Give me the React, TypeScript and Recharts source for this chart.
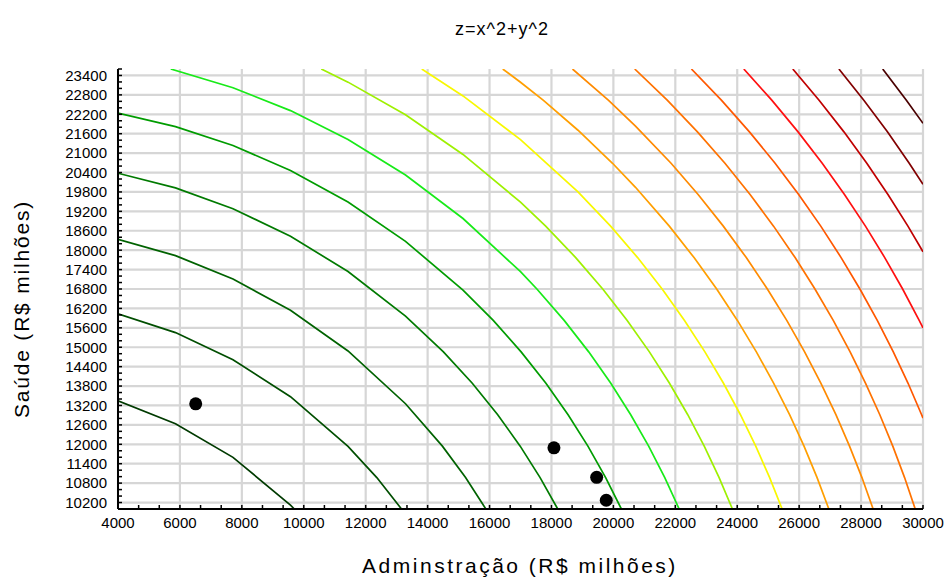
import { ComposedChart, Line, Scatter, XAxis, YAxis, CartesianGrid } from 'recharts'

// tick labels
const xLabels = [4000, 6000, 8000, 10000, 12000, 14000, 16000, 18000, 20000, 22000, 24000, 26000, 28000, 30000]
const yLabels = [10200, 10800, 11400, 12000, 12600, 13200, 13800, 14400, 15000, 15600, 16200, 16800, 17400, 18000, 18600, 19200, 19800, 20400, 21000, 21600, 22200, 22800, 23400]

// contour lines (x, y), innermost first
const c1 = [[4000, 13342], [5857, 12637], [7714, 11597], [9571, 10119], [9695, 10000]]
const c2 = [[4000, 16034], [5857, 15453], [7714, 14615], [9571, 13472], [11429, 11937], [12359, 10971], [13157, 10000]]
const c3 = [[4000, 18336], [5857, 17830], [7714, 17108], [9571, 16143], [11429, 14885], [13286, 13254], [14477, 11943], [15226, 10971], [15881, 10000]]
const c4 = [[4000, 20379], [5857, 19925], [7714, 19282], [9571, 18431], [11429, 17340], [13286, 15962], [14511, 14857], [15443, 13886], [16264, 12914], [16990, 11943], [17633, 10971], [18202, 10000]]
const c5 = [[4000, 22235], [5857, 21820], [7714, 21234], [9571, 20465], [11429, 19488], [13286, 18272], [15143, 16766], [16120, 15829], [17020, 14857], [17821, 13886], [18537, 12914], [19177, 11943], [19750, 10971], [20258, 10000]]
const c6 = [[5704, 23600], [7714, 23022], [9571, 22314], [11429, 21422], [13286, 20322], [15143, 18979], [17000, 17335], [17529, 16800], [18410, 15829], [19203, 14857], [19917, 13886], [20560, 12914], [21139, 11943], [21660, 10971], [22125, 10000]]
const c7 = [[10566, 23600], [11429, 23194], [13286, 22183], [15143, 20959], [17000, 19483], [17813, 18743], [18783, 17771], [19656, 16800], [20446, 15829], [21163, 14857], [21812, 13886], [22402, 12914], [22934, 11943], [23415, 10971], [23845, 10000]]
const c8 = [[13811, 23600], [15143, 22768], [17000, 21417], [18857, 19802], [19910, 18743], [20782, 17771], [21575, 16800], [22297, 15829], [22956, 14857], [23556, 13886], [24103, 12914], [24598, 11943], [25047, 10971], [25450, 10000]]
const c9 = [[16427, 23600], [17000, 23191], [17741, 22629], [18857, 21707], [19972, 20686], [20714, 19943], [21806, 18743], [22605, 17771], [23336, 16800], [24005, 15829], [24618, 14857], [25179, 13886], [25691, 12914], [26157, 11943], [26579, 10971], [26959, 10000]]
const c10 = [[18680, 23600], [19845, 22629], [20714, 21837], [21863, 20686], [22743, 19714], [23550, 18743], [24292, 17771], [24973, 16800], [25600, 15829], [26176, 14857], [26704, 13886], [27187, 12914], [27627, 11943], [28028, 10971], [28389, 10000]]
const c11 = [[20689, 23600], [21747, 22629], [22715, 21657], [23603, 20686], [24421, 19714], [25173, 18743], [25869, 17771], [26510, 16800], [27101, 15829], [27646, 14857], [28146, 13886], [28605, 12914], [29024, 11943], [29405, 10971], [29749, 10000]]
const c12 = [[22520, 23600], [23495, 22629], [24394, 21657], [25223, 20686], [25990, 19714], [26698, 18743], [27355, 17771], [27962, 16800], [28523, 15829], [29041, 14857], [29518, 13886], [29955, 12914], [30000, 12810]]
const c13 = [[24212, 23600], [25122, 22629], [25965, 21657], [26745, 20686], [27469, 19714], [28141, 18743], [28764, 17771], [29342, 16800], [29877, 15829], [30000, 15595]]
const c14 = [[25794, 23600], [26650, 22629], [27446, 21657], [28185, 20686], [28873, 19714], [29513, 18743], [30000, 17953]]
const c15 = [[27284, 23600], [28095, 22629], [28851, 21657], [29555, 20686], [30000, 20035]]
const c16 = [[28698, 23600], [29469, 22629], [30000, 21920]]

const contours = [c1, c2, c3, c4, c5, c6, c7, c8, c9, c10, c11, c12, c13, c14, c15, c16]
const contourColors = ['#003a00', '#004e00', '#006200', '#007a00', '#009c00', '#18ea18', '#9ef000', '#f8f800', '#ff9f00', '#ff8a00', '#ff7200', '#ff5800', '#ff1010', '#c00000', '#820000', '#4a0000']

// observed points
const pointsX = [6510, 18080, 19460, 19770]
const pointsY = [13250, 11890, 10980, 10270]

const font = '"Liberation Sans", Arial, sans-serif'

// minor ticks: x axis in thirds of a label step, y axis every 200, right axis every 500
const xTicks = xLabels.flatMap((v, i) => (i === 0 ? [v] : [v - 4000 / 3, v - 2000 / 3, v]))
const yTicks = [10000, ...yLabels.flatMap((v) => [v - 200, v, v + 200])].filter((v, i, a) => a.indexOf(v) === i && v <= 23600)
const rightTicks = yTicks.filter((v) => v % 500 === 0)

const isLabel = (list: number[]) => (v: number) => {
    const r = Math.round(v)
    return list.includes(r) ? String(r) : ''
}

const scatterData = pointsX.map((x, i) => ({ x, y: pointsY[i] }))

const Dot = (p: any) => <circle cx={p.cx} cy={p.cy} r={6.5} fill="#000" />

export default function App() {
    return (
        <div style={{ position: 'absolute', left: 0, top: 0, width: 949, height: 584, background: '#fff', fontFamily: font }}>
            <div style={{ position: 'absolute', left: 0, width: 1004, top: 19, textAlign: 'center', fontSize: 18, letterSpacing: 1 }}>z=x^2+y^2</div>
            <ComposedChart width={949} height={584} margin={{ top: 69, right: 26, bottom: 35, left: 0 }}>
                <CartesianGrid
                    xAxisId="b"
                    yAxisId="l"
                    verticalValues={xLabels}
                    horizontalValues={yLabels}
                    stroke="#d6d6d6"
                    strokeWidth={2.2}
                />
                <XAxis
                    xAxisId="b"
                    type="number"
                    dataKey="x"
                    domain={[4000, 30000]}
                    allowDataOverflow
                    ticks={xTicks}
                    interval={0}
                    tickFormatter={isLabel(xLabels)}
                    tickSize={-4}
                    tickMargin={12}
                    height={40}
                    axisLine={{ stroke: '#000', strokeWidth: 2 }}
                    tickLine={{ stroke: '#000', strokeWidth: 1.5 }}
                    tick={{ fill: '#000', fontSize: 15, fontFamily: font, fontWeight: 400 }}
                />
                <XAxis
                    xAxisId="t"
                    orientation="top"
                    type="number"
                    dataKey="x"
                    domain={[4000, 30000]}
                    allowDataOverflow
                    ticks={xTicks}
                    interval={0}
                    mirror
                    height={0}
                    tick={false}
                    tickSize={4}
                    axisLine={{ stroke: '#000', strokeWidth: 2 }}
                    tickLine={{ stroke: '#000', strokeWidth: 1.5 }}
                />
                <YAxis
                    yAxisId="l"
                    type="number"
                    dataKey="y"
                    domain={[10000, 23600]}
                    allowDataOverflow
                    ticks={yTicks}
                    interval={0}
                    tickFormatter={isLabel(yLabels)}
                    tickSize={-4}
                    tickMargin={15}
                    width={118}
                    axisLine={{ stroke: '#000', strokeWidth: 2 }}
                    tickLine={{ stroke: '#000', strokeWidth: 1.5 }}
                    tick={{ fill: '#000', fontSize: 15, fontFamily: font, fontWeight: 400 }}
                />
                <YAxis
                    yAxisId="r"
                    orientation="right"
                    type="number"
                    dataKey="y"
                    domain={[10000, 23600]}
                    allowDataOverflow
                    ticks={rightTicks}
                    interval={0}
                    mirror
                    width={0}
                    tick={false}
                    tickSize={4}
                    axisLine={{ stroke: '#000', strokeWidth: 2 }}
                    tickLine={{ stroke: '#000', strokeWidth: 1.5 }}
                />
                {contours.map((c, i) => (
                    <Line
                        key={i}
                        xAxisId="b"
                        yAxisId="l"
                        data={c.map(([x, y]) => ({ x, y }))}
                        dataKey="y"
                        type="linear"
                        stroke={contourColors[i]}
                        strokeWidth={1.7}
                        dot={false}
                        activeDot={false}
                        isAnimationActive={false}
                    />
                ))}
                <Scatter xAxisId="b" yAxisId="l" data={scatterData} dataKey="y" shape={Dot} isAnimationActive={false} />
            </ComposedChart>
            <div style={{ position: 'absolute', left: 0, width: 1040, top: 554, textAlign: 'center', fontSize: 21, letterSpacing: 2.5 }}>
                Adminstração (R$ milhões)
            </div>
            <div
                style={{
                    position: 'absolute',
                    left: 22,
                    top: 309,
                    transform: 'translate(-50%, -50%) rotate(-90deg)',
                    whiteSpace: 'nowrap',
                    fontSize: 21,
                    letterSpacing: 1.8,
                }}
            >
                Saúde (R$ milhões)
            </div>
        </div>
    )
}
